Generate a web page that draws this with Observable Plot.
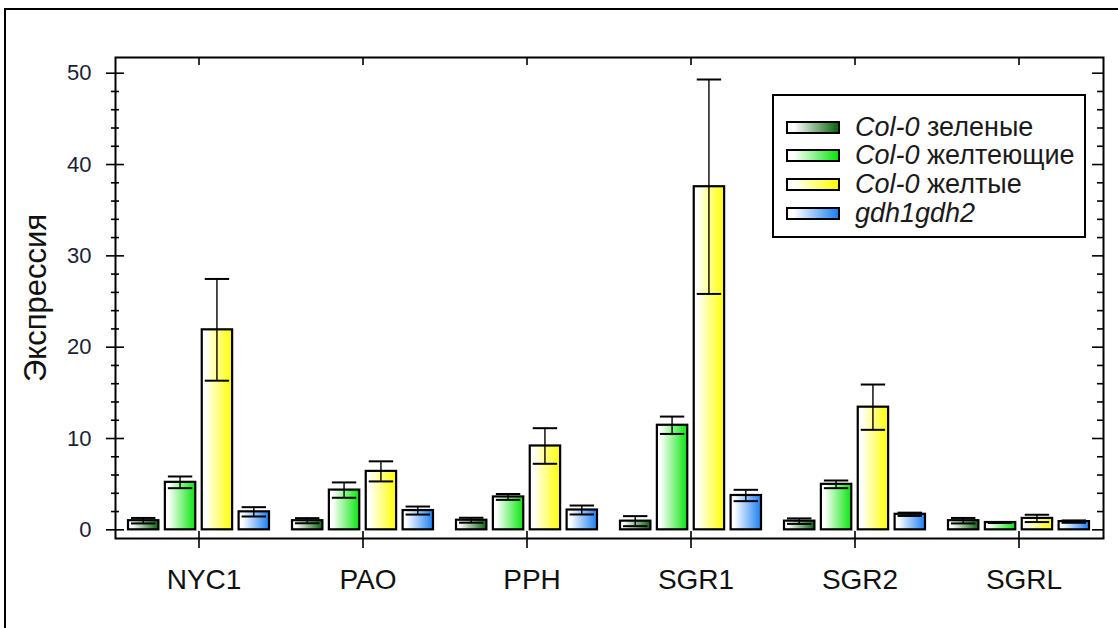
<!DOCTYPE html>
<html><head><meta charset="utf-8">
<script src="https://cdn.jsdelivr.net/npm/d3@7"></script>
<script src="https://cdn.jsdelivr.net/npm/@observablehq/plot@0.6"></script>
<style>
html,body{margin:0;padding:0;background:#fff;}
#wrap{position:relative;width:1118px;height:628px;overflow:hidden;font-family:"Liberation Sans",Arial,sans-serif;}
#wrap svg{position:absolute;left:0;top:0;}
#border{position:absolute;left:4px;top:8px;width:1300px;height:800px;border-left:2px solid #000;border-top:2px solid #000;}
#legend{position:absolute;left:772px;top:94px;width:310px;height:140px;border:2px solid #000;background:#fff;}
.row{position:absolute;left:12px;height:28px;display:flex;align-items:center;font-size:27px;color:#1a1a1a;white-space:nowrap;}
.sw{width:50px;height:9px;border:2px solid #000;margin-right:15px;flex:none;}
</style></head>
<body>
<div id="wrap"><div id="border"></div></div>
<script>
// ---- data ----
const groups = ["NYC1", "PAO", "PPH", "SGR1", "SGR2", "SGRL"];
const seriesNames = ["зеленые", "желтеющие", "желтые", "gdh1gdh2"];
const seriesColors = ["#0a6410", "#08e60c", "#ffff00", "#1c7ff0"];
const meanGreen     = [1.0, 1.0, 1.05, 0.95, 0.95, 1.0];
const errGreen      = [0.3, 0.28, 0.27, 0.55, 0.3, 0.3];
const meanYellowing = [5.2, 4.35, 3.6, 11.45, 4.98, 0.8];
const errYellowing  = [0.64, 0.84, 0.32, 0.95, 0.42, 0.05];
const meanYellow    = [21.9, 6.4, 9.18, 37.57, 13.43, 1.25];
const errYellow     = [5.57, 1.1, 1.95, 11.74, 2.48, 0.4];
const meanGdh       = [1.97, 2.11, 2.17, 3.76, 1.7, 0.9];
const errGdh        = [0.51, 0.44, 0.49, 0.62, 0.18, 0.13];
const yMajor = [0, 10, 20, 30, 40, 50];
const yMinor = [2, 4, 6, 8, 12, 14, 16, 18, 22, 24, 26, 28, 32, 34, 36, 38, 42, 44, 46, 48];

const means = [meanGreen, meanYellowing, meanYellow, meanGdh];
const errs = [errGreen, errYellowing, errYellow, errGdh];
const tables = means.map((m, i) => groups.map((g, j) => ({group: g, mean: m[j], err: errs[i][j]})));

// ---- layout (styles) ----
const W = 1118, H = 628, mL = 115, mR = 15, mT = 57, mB = 90;
const padIn = 0.14, padOut = 0.07;
const bw = Plot.scale({x: {type: "band", domain: groups, range: [mL, W - mR], paddingInner: padIn, paddingOuter: padOut}}).bandwidth;
const barW = 31;
const S = (bw - barW) / 3;
const font = "Liberation Sans, Arial, sans-serif";

function defs() {
  const d = d3.create("svg:defs");
  seriesColors.forEach((c, i) => {
    const g = d.append("linearGradient").attr("id", "grad" + i).attr("x1", "0").attr("x2", "1").attr("y1", "0").attr("y2", "0");
    g.append("stop").attr("offset", "0%").attr("stop-color", "#ffffff");
    g.append("stop").attr("offset", "12%").attr("stop-color", "#ffffff");
    g.append("stop").attr("offset", "100%").attr("stop-color", c);
  });
  return d.node();
}

const marks = [defs];
tables.forEach((t, i) => {
  const L = i * S, R = (3 - i) * S;
  marks.push(Plot.barY(t, {x: "group", y1: 0, y2: "mean", fill: `url(#grad${i})`, stroke: "black", strokeWidth: 2.2, insetLeft: L, insetRight: R}));
});
tables.forEach((t, i) => {
  const L = i * S, R = (3 - i) * S;
  marks.push(Plot.barY(t, {x: "group", y1: d => d.mean - d.err, y2: d => d.mean + d.err, fill: "black", insetLeft: L + barW / 2 - 1, insetRight: R + barW / 2 - 1}));
  marks.push(Plot.tickY(t, {x: "group", y: d => d.mean + d.err, stroke: "black", strokeWidth: 2, insetLeft: L + 3, insetRight: R + 3}));
  marks.push(Plot.tickY(t, {x: "group", y: d => d.mean - d.err, stroke: "black", strokeWidth: 2, insetLeft: L + 3, insetRight: R + 3}));
});

marks.push(
  Plot.frame({stroke: "black", strokeWidth: 2}),
  // left axis
  Plot.axisY({ticks: yMajor, tickSize: 0, tickPadding: 24, fontSize: 22, fill: "#1d1d38", label: null}),
  Plot.axisY({ticks: yMajor, tickSize: 18, dx: 9, text: null, label: null, strokeWidth: 1.6}),
  Plot.axisY({ticks: yMinor, tickSize: 8, dx: 4, text: null, label: null, strokeWidth: 1.6}),
  Plot.axisY({ticks: [], tickSize: 0, text: null, label: "Экспрессия", labelAnchor: "center", labelArrow: "none", labelOffset: 92, fontSize: 31, fill: "#111"}),
  // right axis (inward ticks)
  Plot.axisY({anchor: "right", ticks: yMajor, tickSize: 12, dx: -12, text: null, label: null, strokeWidth: 1.6}),
  Plot.axisY({anchor: "right", ticks: yMinor, tickSize: 7, dx: -7, text: null, label: null, strokeWidth: 1.6}),
  // top axis (inward ticks)
  Plot.axisX({anchor: "top", tickSize: 7, dy: 7, text: null, label: null, strokeWidth: 1.6}),
  // bottom axis
  Plot.axisX({anchor: "bottom", tickSize: 17, dy: -7, text: null, label: null, strokeWidth: 1.6}),
  Plot.axisX({anchor: "bottom", tickSize: 0, tickPadding: 31, fontSize: 28, dx: 5, fill: "#111", label: null})
);

const chart = Plot.plot({
  width: W, height: H,
  marginLeft: mL, marginRight: mR, marginTop: mT, marginBottom: mB,
  style: {fontFamily: font, background: "transparent", overflow: "visible"},
  x: {type: "band", domain: groups, paddingInner: padIn, paddingOuter: padOut},
  y: {domain: [-0.95, 51.72]},
  marks
});
const wrap = document.getElementById("wrap");
wrap.insertBefore(chart, wrap.firstChild);

// legend
const leg = document.createElement("div");
leg.id = "legend";
seriesNames.forEach((name, i) => {
  const row = document.createElement("div");
  row.className = "row";
  row.style.top = (17 + i * 28.7) + "px";
  const sw = document.createElement("div");
  sw.className = "sw";
  sw.style.background = `linear-gradient(to right, #ffffff 0%, #ffffff 12%, ${seriesColors[i]} 100%)`;
  row.appendChild(sw);
  const txt = document.createElement("span");
  if (i < 3) {
    const it = document.createElement("i");
    it.textContent = "Col-0";
    txt.appendChild(it);
    txt.appendChild(document.createTextNode(" " + name));
  } else {
    const it = document.createElement("i");
    it.textContent = name;
    txt.appendChild(it);
  }
  row.appendChild(txt);
  leg.appendChild(row);
});
wrap.appendChild(leg);
</script>
</body></html>
